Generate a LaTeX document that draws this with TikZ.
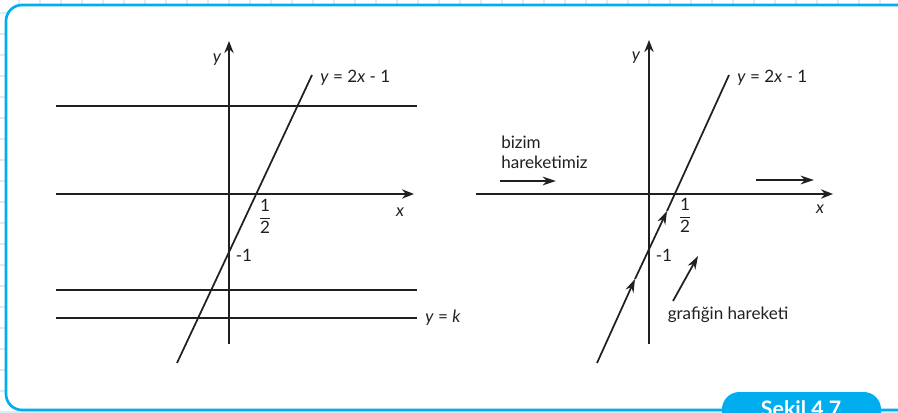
\documentclass[tikz,border=0pt]{standalone}
\usepackage{fontspec}
\setmainfont{Lato}
\usetikzlibrary{arrows.meta}
\definecolor{frameblue}{RGB}{0,174,239}
\definecolor{gridblue}{RGB}{218,236,249}
\definecolor{ink}{RGB}{35,31,32}
\newcommand{\halbe}[2]{$\displaystyle{\hbox{#1}\above 0.6pt\hbox{#2}}$}
\tikzset{
  axis/.style={line width=1.4pt, draw=ink, -{Stealth[length=9pt,width=7pt]}},
  graph/.style={line width=1.3pt, draw=ink},
  level/.style={line width=1.4pt, draw=ink},
  move/.style={line width=1.3pt, draw=ink, -{Stealth[length=10pt,width=6.5pt]}},
  lbl/.style={inner sep=0pt, text=ink, font=\fontsize{12.8}{15}\selectfont},
  gridline/.style={gridblue, line width=0.8pt},
}
\begin{document}
\begin{tikzpicture}[x=0.75pt, y=-0.75pt]
  \useasboundingbox (0,0) rectangle (898,412);
  \clip (0,0) rectangle (898,412);
  % background paper and frame
  \foreach \gx in {19,40,...,898} \draw[gridline] (\gx,0) -- (\gx,412);
  \foreach \gy in {13,34,...,412} \draw[gridline] (0,\gy) -- (898,\gy);
  \draw[frameblue, line width=2pt, fill=white, rounded corners=12pt] (6,5) rectangle (940,410);
  \fill[frameblue, rounded corners=13pt] (722,392) rectangle (881,440);
  \node[anchor=base, text=white, font=\bfseries\fontsize{16}{19}\selectfont] (tab) at (801,416) {Şekil 4.7};

  % left graph
  \coordinate (lyb) at (229,344); \coordinate (lyt) at (229,41);
  \coordinate (lxl) at (56,194);  \coordinate (lxr) at (414,194);
  \draw[axis] (lyb) -- (lyt);
  \draw[axis] (lxl) -- (lxr);
  \foreach \ly in {106,290,318} \draw[level] (56,\ly) -- (417,\ly);
  \coordinate (la) at (177,363); \coordinate (lb) at (312,75);
  \draw[graph] (la) -- (lb);
  \node[lbl] (ly) at (217,60) {\textit{y}};
  \node[lbl, anchor=base] (lx) at (400,216) {\textit{x}};
  \node[lbl, anchor=base west] (leq) at (320,82) {\textit{y} = 2\textit{x} - 1};
  \node[lbl, anchor=base west] (lk) at (425,322) {\textit{y} = \textit{k}};
  \node[lbl] (lhalf) at (265,216) {\halbe{1}{2}};
  \node[lbl] (lmin) at (244,255) {-1};

  % right graph
  \coordinate (ryb) at (649,344); \coordinate (ryt) at (649,40);
  \coordinate (rxl) at (476,194); \coordinate (rxr) at (833,194);
  \draw[axis] (ryb) -- (ryt);
  \draw[axis] (rxl) -- (rxr);
  \coordinate (ra) at (597,363); \coordinate (rb) at (729,75);
  \coordinate (rm1) at (635,279); \coordinate (rm2) at (667,211);
  \draw[move] (ra) -- (rm1);
  \draw[move] (rm1) -- (rm2);
  \draw[graph] (rm2) -- (rb);
  \node[lbl] (ry) at (636,58) {\textit{y}};
  \node[lbl, anchor=base] (rx) at (820,213) {\textit{x}};
  \node[lbl, anchor=base west] (req) at (737,82) {\textit{y} = 2\textit{x} - 1};
  \node[lbl] (rhalf) at (685,215) {\halbe{1}{2}};
  \node[lbl] (rmin) at (664,255) {-1};

  % motion labels
  \node[lbl, anchor=base west] (biz1) at (501,148) {bizim};
  \node[lbl, anchor=base west] (biz2) at (501,168) {hareketimiz};
  \coordinate (ba) at (500,181); \coordinate (bb) at (556,181);
  \draw[move] (ba) -- (bb);
  \coordinate (ca) at (756,180); \coordinate (cb) at (814,180);
  \draw[move] (ca) -- (cb);
  \coordinate (ga) at (673,301); \coordinate (gb) at (698,256);
  \draw[move] (ga) -- (gb);
  \node[lbl, anchor=base] (graf) at (728,319) {grafiğin hareketi};
\end{tikzpicture}
\end{document}
